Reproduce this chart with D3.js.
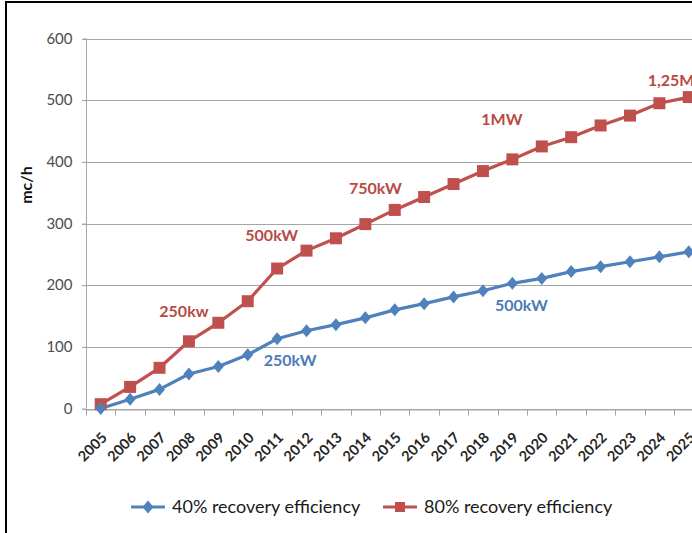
<!DOCTYPE html>
<html>
<head>
<meta charset="utf-8">
<script src="https://cdn.jsdelivr.net/npm/d3@7/dist/d3.min.js"></script>
<style>
  html, body { margin: 0; padding: 0; background: #fff; }
  svg { display: block; }
</style>
</head>
<body>
<svg id="chart" width="692" height="533"></svg>
<script>
// Years on the category axis
const years = ["2005","2006","2007","2008","2009","2010","2011","2012","2013","2014","2015",
               "2016","2017","2018","2019","2020","2021","2022","2023","2024","2025"];

// Flow (mc/h) for each recovery efficiency
const eff40 = [0, 15, 31, 56, 68, 87, 113, 126, 136, 147, 160, 170, 181, 191, 203, 211, 222, 230, 238, 246, 254];
const eff80 = [7, 35, 66, 109, 139, 174, 227, 256, 276, 299, 322, 343, 364, 385, 404, 425, 440, 459, 475, 495, 505];

const yTicks = [0, 100, 200, 300, 400, 500, 600];

const seriesNames = ["40% recovery efficiency", "80% recovery efficiency"];

// Installed power notes placed along each curve
const notes80 = [
  { year: "2008", label: "250kw", dx: -5, dy: -24 },
  { year: "2010", label: "500kW", dx: 24, dy: -60 },
  { year: "2014", label: "750kW", dx: 10, dy: -30 },
  { year: "2018", label: "1MW", dx: 19, dy: -46 },
  { year: "2024", label: "1,25MW", dx: 20, dy: -17 }
];
const notes40 = [
  { year: "2011", label: "250kW", dx: 13, dy: 27 },
  { year: "2019", label: "500kW", dx: 9, dy: 28 }
];

const RED = "#c0504d";
const BLUE = "#4f81bd";
const RED_TXT = "#b84a45";
const BLUE_TXT = "#4a7bb7";

const svg = d3.select("#chart");
const W = 692, H = 533;

const x = d3.scaleBand().domain(years).range([86, 703.5]).padding(0);
const y = d3.scaleLinear().domain([0, 600]).range([408.5, 38.5]);
const cx = d => x(d) + x.bandwidth() / 2;

// Gridlines
svg.append("g")
  .selectAll("line")
  .data(yTicks)
  .join("line")
  .attr("x1", 82).attr("x2", W)
  .attr("y1", d => Math.round(y(d)) + 0.5)
  .attr("y2", d => Math.round(y(d)) + 0.5)
  .attr("stroke", "#a6a6a6").attr("stroke-width", 1);

// Value axis
const yAxis = svg.append("g")
  .attr("transform", "translate(86.5,0)")
  .call(d3.axisLeft(y).tickValues(yTicks).tickSize(4).tickPadding(10));
yAxis.select(".domain").attr("stroke", "#a6a6a6").attr("d", `M0,${y(600)}V${y(0)}`);
yAxis.selectAll(".tick line").attr("stroke", "#a6a6a6");
yAxis.selectAll(".tick text")
  .attr("fill", "#4d4d4d")
  .style("font-family", "Lato, sans-serif")
  .style("font-size", "15px");

// Category axis
const xAxis = svg.append("g")
  .attr("transform", `translate(0,${Math.round(y(0)) + 0.5})`)
  .call(d3.axisBottom(x).tickSize(0));
xAxis.select(".domain").attr("stroke", "#a6a6a6");
// tick marks between categories
xAxis.append("g").selectAll("line")
  .data(years)
  .join("line")
  .attr("x1", d => Math.round(x(d)) + 0.5)
  .attr("x2", d => Math.round(x(d)) + 0.5)
  .attr("y1", 0).attr("y2", 6)
  .attr("stroke", "#a6a6a6");
xAxis.selectAll(".tick text")
  .attr("fill", "#262626")
  .style("font-family", "Lato, sans-serif")
  .style("font-size", "14.5px")
  .style("font-weight", "bold")
  .attr("text-anchor", "end")
  .attr("dy", "0")
  .attr("transform", "translate(5,27) rotate(-45)");

// Axis title
svg.append("text")
  .attr("transform", "translate(32,185) rotate(-90)")
  .attr("text-anchor", "middle")
  .style("font-family", "Lato, sans-serif")
  .style("font-size", "16px")
  .style("font-weight", "bold")
  .attr("fill", "#111")
  .text("mc/h");

// Lines
const line = d3.line().x((d, i) => cx(years[i])).y(d => y(d));

svg.append("path").datum(eff80)
  .attr("d", line).attr("fill", "none")
  .attr("stroke", RED).attr("stroke-width", 3.2).attr("stroke-linejoin", "round");
svg.append("path").datum(eff40)
  .attr("d", line).attr("fill", "none")
  .attr("stroke", BLUE).attr("stroke-width", 3.2).attr("stroke-linejoin", "round");

// Markers
const square = d3.symbol().type(d3.symbolSquare).size(144)();
const diamond = "M0,-6.5L5.5,0L0,6.5L-5.5,0Z";

svg.append("g").selectAll("path")
  .data(eff80)
  .join("path")
  .attr("d", square)
  .attr("transform", (d, i) => `translate(${cx(years[i])},${y(d)})`)
  .attr("fill", RED);

svg.append("g").selectAll("path")
  .data(eff40)
  .join("path")
  .attr("d", diamond)
  .attr("transform", (d, i) => `translate(${cx(years[i])},${y(d)})`)
  .attr("fill", BLUE);

// Power notes
function drawNotes(notes, values, color) {
  svg.append("g").selectAll("text")
    .data(notes)
    .join("text")
    .attr("x", d => cx(d.year) + d.dx)
    .attr("y", d => y(values[years.indexOf(d.year)]) + d.dy)
    .attr("text-anchor", "middle")
    .style("font-family", "Lato, sans-serif")
    .style("font-size", "16px")
    .style("font-weight", "bold")
    .attr("fill", color)
    .text(d => d.label);
}
drawNotes(notes80, eff80, RED_TXT);
drawNotes(notes40, eff40, BLUE_TXT);

// Legend
const legend = svg.append("g");
const legendItems = [
  { name: seriesNames[0], color: BLUE, mark: diamond, x0: 131 },
  { name: seriesNames[1], color: RED, mark: d3.symbol().type(d3.symbolSquare).size(100)(), x0: 383 }
];
legendItems.forEach(it => {
  const g = legend.append("g").attr("transform", `translate(${it.x0},507)`);
  g.append("line").attr("x1", 0).attr("x2", 34).attr("y1", 0).attr("y2", 0)
    .attr("stroke", it.color).attr("stroke-width", 3.2);
  g.append("path").attr("d", it.mark).attr("transform", "translate(17,0)").attr("fill", it.color);
  g.append("text").attr("x", 41).attr("y", 6)
    .style("font-family", "Lato, sans-serif")
    .style("font-size", "18px")
    .attr("fill", "#1a1a1a")
    .text(it.name);
});

// Frame
svg.append("path")
  .attr("d", `M6,${H}V2H${W}`)
  .attr("fill", "none")
  .attr("stroke", "#000")
  .attr("stroke-width", 2);
</script>
</body>
</html>
